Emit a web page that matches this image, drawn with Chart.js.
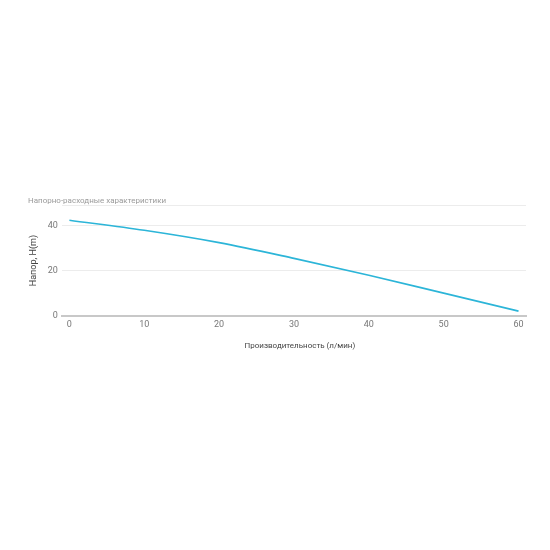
<!DOCTYPE html>
<html>
<head>
<meta charset="utf-8">
<script src="https://cdn.jsdelivr.net/npm/chart.js@4.4.0/dist/chart.umd.min.js"></script>
<style>
  html, body { margin: 0; padding: 0; background: #fff; }
  #wrap { position: relative; width: 550px; height: 550px; }
</style>
</head>
<body>
<div id="wrap"><canvas id="chart"></canvas></div>
<script>
// flow (l/min) vs head (m)
const flow = [0, 10, 20, 30, 40, 50, 60];
const head = [42.5, 38, 32.5, 25.5, 18, 10, 2];
const xTicks = [0, 10, 20, 30, 40, 50, 60];
const yTicks = [0, 20, 40];

const chartTitle = "Напорно-расходные характеристики";
const xTitle = "Производительность (л/мин)";
const yTitle = "Напор, H(m)";

const fontFamily = "Roboto, 'Noto Sans', sans-serif";

new Chart(document.getElementById("chart"), {
  type: "line",
  data: {
    datasets: [{
      data: flow.map((x, i) => ({ x: x, y: head[i] })),
      borderColor: "#2cb5d8",
      borderWidth: 1.6,
      pointRadius: 0,
      cubicInterpolationMode: "monotone",
      fill: false
    }]
  },
  options: {
    responsive: true,
    maintainAspectRatio: false,
    animation: false,
    layout: { padding: { top: 196, left: 28, right: 24, bottom: 195 } },
    plugins: {
      legend: { display: false },
      tooltip: { enabled: false },
      title: {
        display: true,
        text: chartTitle,
        align: "start",
        color: "#9a9a9a",
        font: { family: fontFamily, size: 8, weight: "normal" },
        padding: { top: 0, bottom: 0 }
      }
    },
    scales: {
      x: {
        type: "linear",
        min: -1,
        max: 61,
        afterBuildTicks: (axis) => { axis.ticks = xTicks.map(v => ({ value: v })); },
        grid: { display: false, drawTicks: false },
        border: { display: true, color: "#c8c8c8", width: 2 },
        ticks: { color: "#777", font: { family: fontFamily, size: 9 }, padding: 4 },
        title: {
          display: true,
          // leading spaces nudge the centred title a little to the right
          text: "      " + xTitle,
          color: "#444",
          font: { family: fontFamily, size: 8 },
          padding: { top: 7 }
        }
      },
      y: {
        min: 0,
        max: 49,
        afterBuildTicks: (axis) => { axis.ticks = yTicks.concat([49]).map(v => ({ value: v })); },
        grid: { color: "#ececec", lineWidth: 1, drawTicks: false },
        border: { display: false },
        ticks: {
          color: "#777",
          font: { family: fontFamily, size: 9 },
          padding: 4,
          callback: (v) => yTicks.includes(v) ? String(v) : ""
        },
        title: {
          display: true,
          text: yTitle,
          color: "#444",
          font: { family: fontFamily, size: 9 },
          padding: { top: 0, bottom: 5 }
        }
      }
    }
  }
});
</script>
</body>
</html>
